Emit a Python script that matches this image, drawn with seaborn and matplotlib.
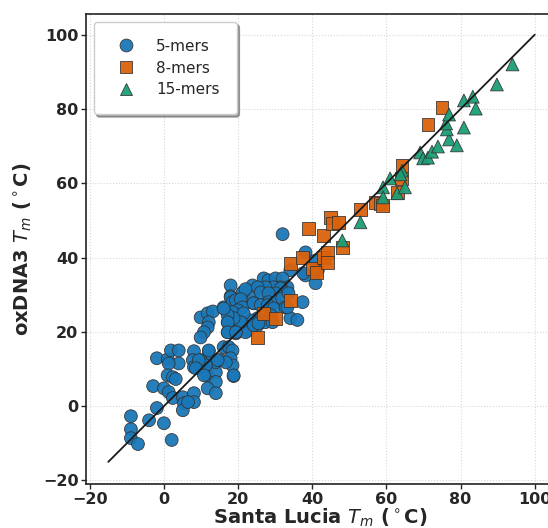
import seaborn as sns
import matplotlib.pyplot as plt
import numpy as np
import pandas as pd

# Santa Lucia Tm vs oxDNA3 Tm
x5 = [-8.9, -8.9, -8.9, -7.0, -4.0, -1.9, -2.9, 0.0, 2.1, -1.9,
      1.0, 1.9, 4.0, 4.0, 1.3, 1.0, 2.4, 3.2, 0.0, 1.3,
      2.4, 5.1, 5.4, 5.1, 8.1, 8.1, 6.5, 8.1, 7.8, 8.1,
      9.9, 10.8, 11.8, 12.1, 12.1, 9.9, 14.0, 14.0, 11.8, 14.0,
      14.0, 15.3, 16.1, 17.5, 18.5, 18.0, 18.5, 16.7, 18.8, 9.9,
      11.8, 13.2, 12.1, 11.8, 10.8, 9.9, 16.1, 18.0, 18.0, 18.8,
      20.7, 21.5, 23.9, 23.9, 24.2, 20.7, 18.8, 17.2, 17.2, 19.4,
      19.4, 21.5, 22.6, 25.3, 25.3, 32.0, 38.2, 40.9, 38.2, 40.9,
      34.1, 26.9, 28.2, 30.1, 32.0, 33.3, 31.5, 29.6, 27.4, 25.3,
      21.2, 22.0, 26.1, 31.5, 30.1, 28.2, 28.2, 30.1, 31.9, 33.6,
      18.0, 18.5, 19.4, 20.7, 21.2, 19.9, 18.5, 24.2, 26.1, 28.0,
      29.6, 28.8, 27.4, 25.3, 23.4, 22.8, 22.0, 21.5, 20.7, 19.4,
      18.8, 17.2, 16.1, 17.2, 17.2, 19.4, 24.2, 25.5, 29.3, 32.8,
      34.1, 37.4, 37.6, 12.1, 14.5, 11.3, 9.4, 8.6, 10.8, 18.8,
      33.3, 36.0, 41.5]
y5 = [-2.7, -6.2, -8.6, -10.2, -3.8, -0.5, 5.4, -4.6, -9.1, 12.9,
      12.6, 15.0, 15.0, 11.5, 11.5, 8.3, 7.8, 7.3, 4.8, 3.8,
      2.2, 2.4, 0.8, -1.1, 3.5, 1.1, 1.1, 14.8, 12.4, 10.5,
      11.0, 9.7, 8.3, 14.8, 12.4, 12.4, 9.1, 6.5, 4.8, 3.5,
      11.8, 12.4, 15.9, 15.9, 15.0, 12.9, 11.0, 11.8, 8.1, 23.9,
      25.0, 25.5, 22.6, 21.2, 19.9, 18.5, 26.6, 32.5, 29.6, 28.5,
      28.5, 30.6, 32.5, 29.8, 27.7, 26.6, 25.3, 22.6, 19.9, 22.3,
      19.6, 22.3, 20.4, 21.8, 23.7, 46.3, 41.4, 39.2, 35.2, 33.1,
      36.6, 34.4, 33.9, 34.4, 34.4, 32.0, 32.0, 32.0, 32.0, 32.0,
      30.6, 31.5, 30.6, 31.7, 30.4, 30.4, 28.0, 28.0, 29.0, 30.4,
      29.3, 28.0, 28.5, 28.8, 26.6, 25.8, 25.3, 27.7, 27.2, 27.2,
      26.3, 24.5, 22.6, 22.6, 23.1, 21.2, 19.9, 25.0, 22.6, 19.9,
      23.7, 24.5, 26.3, 22.6, 19.9, 19.9, 21.8, 22.3, 22.6, 26.6,
      23.7, 28.0, 35.8, 15.0, 12.4, 11.0, 12.4, 10.2, 8.3, 8.3,
      26.6, 23.2, 36.5]

x8 = [25.3, 26.9, 30.1, 34.1, 34.1, 37.4, 39.0, 40.0, 41.1, 43.0,
      44.1, 44.1, 43.0, 44.9, 45.4, 47.0, 48.1, 53.0, 57.0, 58.3,
      58.9, 62.9, 64.0, 64.2, 71.2, 75.0]
y8 = [18.5, 25.0, 23.7, 28.5, 38.4, 40.1, 47.8, 37.1, 36.0, 40.1,
      41.4, 38.7, 46.0, 50.8, 49.2, 49.5, 42.7, 53.0, 54.8, 54.6,
      54.0, 57.5, 61.3, 64.8, 75.8, 80.4]

x15 = [48.1, 53.0, 59.1, 59.1, 61.0, 62.9, 64.2, 65.0, 63.8, 69.1,
       69.9, 71.2, 72.3, 73.9, 76.9, 79.0, 76.3, 76.1, 76.9, 80.9,
       80.9, 83.3, 84.1, 89.8, 94.0]
y15 = [44.6, 49.5, 58.9, 56.2, 61.3, 57.3, 63.4, 58.9, 62.4, 68.3,
       66.7, 66.9, 68.5, 69.9, 71.8, 70.2, 74.5, 76.1, 78.5, 75.0,
       82.3, 83.3, 80.1, 86.6, 92.0]

groups = ['5-mers', '8-mers', '15-mers']
df = pd.DataFrame({
    'sl': x5 + x8 + x15,
    'ox': y5 + y8 + y15,
    'group': [groups[0]] * len(x5) + [groups[1]] * len(x8) + [groups[2]] * len(x15),
})

sns.set_style('ticks')
plt.rcParams['font.family'] = ['DejaVu Sans']

fig = plt.figure(figsize=(5.48, 5.28), dpi=100)
ax = fig.add_axes([0.157, 0.083, 0.856, 0.89])

palette = {'5-mers': '#1a78b8', '8-mers': '#d9620c', '15-mers': '#1b9e77'}
markers = {'5-mers': 'o', '8-mers': 's', '15-mers': '^'}
sns.scatterplot(data=df, x='sl', y='ox', hue='group', style='group',
                palette=palette, markers=markers, hue_order=groups,
                s=85, edgecolor='#333333', linewidth=0.6, alpha=0.95, ax=ax)

# y = x reference line
ref = np.array([-15, 100])
ax.plot(ref, ref, color='#1a1a1a', lw=1.3, zorder=3)

ax.set_xlim(-21, 105.5)
ax.set_ylim(-21, 105.5)
ticks = np.arange(-20, 101, 20)
ax.set_xticks(ticks)
ax.set_yticks(ticks)
ax.grid(True, ls=':', color='#d8d8d8', lw=0.8)
ax.set_axisbelow(True)
for s in ax.spines.values():
    s.set_color('#222222')
    s.set_linewidth(1.2)
ax.tick_params(labelsize=11.5, width=1.0, length=3.5, pad=2)
for lab in ax.get_xticklabels() + ax.get_yticklabels():
    lab.set_fontweight('bold')

ax.set_xlabel(r'Santa Lucia $T_m$ ($^\circ$C)', fontsize=14, fontweight='bold', labelpad=0)
ax.set_ylabel(r'oxDNA3 $T_m$ ($^\circ$C)', fontsize=14, fontweight='bold', labelpad=6)

leg = ax.legend(loc='upper left', fontsize=11, frameon=True, shadow=True,
                borderpad=1.1, labelspacing=0.45, handletextpad=1.0,
                markerscale=1.0, bbox_to_anchor=(0.0, 1.0))
leg.get_frame().set_edgecolor('#cccccc')

fig.savefig('out.png', dpi=100)
